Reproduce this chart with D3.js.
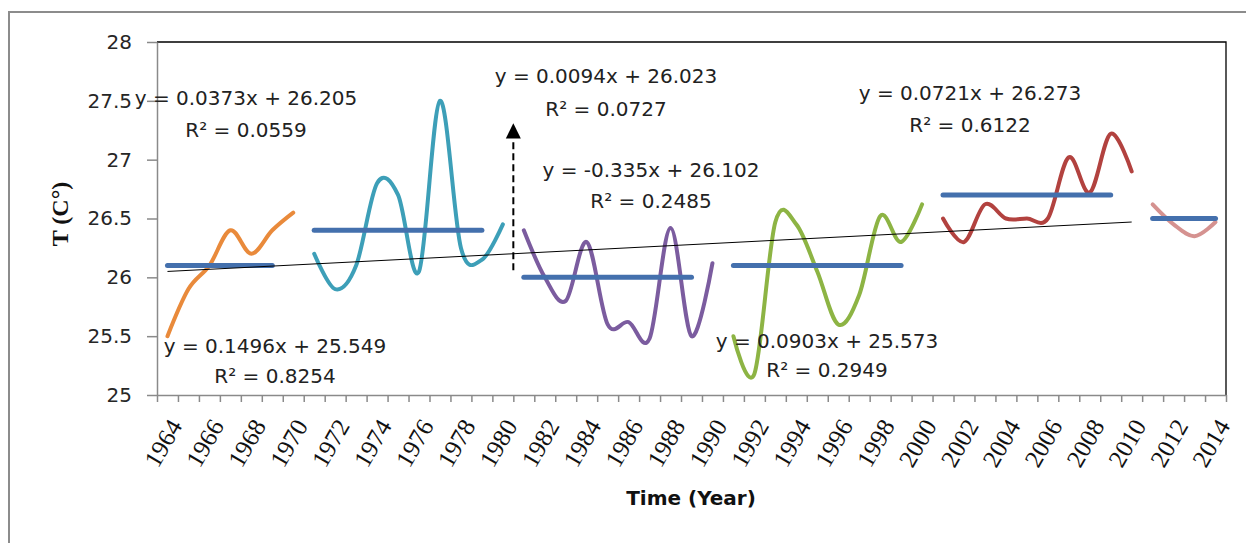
<!DOCTYPE html>
<html>
<head>
<meta charset="utf-8">
<script src="https://cdn.jsdelivr.net/npm/d3@7/dist/d3.min.js"></script>
<style>
  body { margin: 0; background: #fff; }
</style>
</head>
<body>
<div id="chart"></div>
<script>
// categories (one per year)
var years = [1964, 1965, 1966, 1967, 1968, 1969, 1970, 1971, 1972, 1973, 1974, 1975, 1976, 1977,
    1978, 1979, 1980, 1981, 1982, 1983, 1984, 1985, 1986, 1987, 1988, 1989, 1990, 1991,
    1992, 1993, 1994, 1995, 1996, 1997, 1998, 1999, 2000, 2001, 2002, 2003, 2004, 2005,
    2006, 2007, 2008, 2009, 2010, 2011, 2012, 2013, 2014];
var xLabels = [1964, 1966, 1968, 1970, 1972, 1974, 1976, 1978, 1980, 1982, 1984, 1986, 1988,
    1990, 1992, 1994, 1996, 1998, 2000, 2002, 2004, 2006, 2008, 2010, 2012, 2014];
var yTicks = [25, 25.5, 26, 26.5, 27, 27.5, 28];

// decade series (temperature, C)
var years1 = [1964, 1965, 1966, 1967, 1968, 1969, 1970];
var temps1 = [25.5, 25.9, 26.1, 26.4, 26.2, 26.4, 26.55];
var years2 = [1971, 1972, 1973, 1974, 1975, 1976, 1977, 1978, 1979, 1980];
var temps2 = [26.2, 25.9, 26.1, 26.8, 26.7, 26.05, 27.5, 26.25, 26.15, 26.45];
var years3 = [1981, 1982, 1983, 1984, 1985, 1986, 1987, 1988, 1989, 1990];
var temps3 = [26.4, 26.0, 25.8, 26.3, 25.6, 25.62, 25.48, 26.42, 25.5, 26.12];
var years4 = [1991, 1992, 1993, 1994, 1995, 1996, 1997, 1998, 1999, 2000];
var temps4 = [25.5, 25.18, 26.47, 26.45, 26.05, 25.6, 25.85, 26.52, 26.3, 26.62];
var years5 = [2001, 2002, 2003, 2004, 2005, 2006, 2007, 2008, 2009, 2010];
var temps5 = [26.5, 26.3, 26.62, 26.5, 26.5, 26.5, 27.02, 26.72, 27.22, 26.9];
var years6 = [2011, 2012, 2013, 2014];
var temps6 = [26.62, 26.45, 26.35, 26.47];

// decade means (blue bars)
var meanFrom = [1964, 1971, 1981, 1991, 2001, 2011];
var meanTo = [1969, 1979, 1989, 1999, 2009, 2014];
var meanVals = [26.1, 26.4, 26.0, 26.1, 26.7, 26.5];

// overall trend (thin black)
var trendYears = [1964, 2010];
var trendVals = [26.05, 26.47];

// trend equations
var eqLines = ["y = 0.0373x + 26.205", "y = 0.0094x + 26.023", "y = -0.335x + 26.102",
    "y = 0.0721x + 26.273", "y = 0.1496x + 25.549", "y = 0.0903x + 25.573"];
var r2Lines = ["R\u00b2 = 0.0559", "R\u00b2 = 0.0727", "R\u00b2 = 0.2485",
    "R\u00b2 = 0.6122", "R\u00b2 = 0.8254", "R\u00b2 = 0.2949"];

// layout
var eqPos = [[246, 105, 137], [606, 83, 116], [651, 177, 208], [970, 100, 132], [275, 353, 383], [827, 348, 377]];
var colors = ["#e98a3b", "#3d9fb8", "#7b5c9f", "#8db444", "#b2423f", "#d59290"];
var meanColor = "#4470ad";

var svg = d3.select('#chart').append('svg')
    .attr("width", 1246)
    .attr("height", 543);

// outer chart frame
svg.append("rect")
    .attr("x", 9).attr("y", 12)
    .attr("width", 1400).attr("height", 700)
    .attr("fill", "none")
    .attr("stroke", "#8c8c8c")
    .attr("stroke-width", 2);

var plotLeft = 157, plotRight = 1226, plotTop = 42, plotBottom = 395;

var x = d3.scaleBand().domain(years).range([plotLeft, plotRight]);
var xEdge = d3.scaleLinear().domain([0, years.length]).range([plotLeft, plotRight]);
var y = d3.scaleLinear().domain([25, 28]).range([plotBottom, plotTop]);

function xc(yr) { return x(yr) + x.bandwidth() / 2; }

// plot border (top + right)
svg.append("path")
    .attr("d", "M" + plotLeft + "," + plotTop + "H" + plotRight + "V" + plotBottom)
    .attr("fill", "none")
    .attr("stroke", "#000")
    .attr("stroke-width", 1.3);

// y axis
var yAxis = svg.append("g")
    .attr("transform", "translate(" + plotLeft + ",0)")
    .call(d3.axisLeft(y).tickValues(yTicks).tickSize(10).tickSizeOuter(0).tickPadding(15)
        .tickFormat(function(d) { return d % 1 ? d.toFixed(1) : d; }));
yAxis.selectAll("path, line").attr("stroke", "#8a8a8a").attr("stroke-width", 1.5);
yAxis.selectAll("text")
    .style("font-family", "DejaVu Sans")
    .style("font-size", "20px")
    .attr("fill", "#262626");

// x axis: ticks between categories
var xAxis = svg.append("g")
    .attr("transform", "translate(0," + plotBottom + ")")
    .call(d3.axisBottom(xEdge).tickValues(d3.range(years.length + 1)).tickSize(7).tickSizeOuter(0).tickFormat(""));
xAxis.selectAll("path, line").attr("stroke", "#8a8a8a").attr("stroke-width", 1.5);

svg.selectAll(".xlab")
    .data(xLabels)
    .enter().append("text")
    .attr("class", "xlab")
    .attr("transform", function(d) { return "translate(" + (xc(d) + 2) + ",418) rotate(-60)"; })
    .attr("text-anchor", "end")
    .attr("dy", "0.62em")
    .style("font-family", "Liberation Serif")
    .style("font-size", "25px")
    .attr("fill", "#111")
    .text(function(d) { return d; });

// axis titles
svg.append("text")
    .attr("transform", "translate(68,214) rotate(-90)")
    .attr("text-anchor", "middle")
    .style("font-family", "Liberation Serif")
    .style("font-weight", "bold")
    .style("font-size", "24px")
    .attr("fill", "#111")
    .text("T (C\u00b0)");

svg.append("text")
    .attr("x", 691).attr("y", 505)
    .attr("text-anchor", "middle")
    .style("font-family", "DejaVu Sans")
    .style("font-weight", "bold")
    .style("font-size", "20px")
    .attr("fill", "#111")
    .text("Time (Year)");

// smoothed decade curves
var line = d3.line().curve(d3.curveCardinal.tension(0))
    .x(function(d) { return xc(d[0]); })
    .y(function(d) { return y(d[1]); });

var series = [[years1, temps1], [years2, temps2], [years3, temps3],
    [years4, temps4], [years5, temps5], [years6, temps6]];

svg.selectAll(".decade")
    .data(series)
    .enter().append("path")
    .attr("class", "decade")
    .attr("d", function(s) { return line(d3.zip(s[0], s[1])); })
    .attr("fill", "none")
    .attr("stroke", function(s, i) { return colors[i]; })
    .attr("stroke-width", 4)
    .attr("stroke-linecap", "round")
    .attr("stroke-linejoin", "round");

// decade means
svg.selectAll(".mean")
    .data(meanVals)
    .enter().append("line")
    .attr("class", "mean")
    .attr("x1", function(d, i) { return xc(meanFrom[i]); })
    .attr("x2", function(d, i) { return xc(meanTo[i]); })
    .attr("y1", function(d) { return y(d); })
    .attr("y2", function(d) { return y(d); })
    .attr("stroke", meanColor)
    .attr("stroke-width", 5)
    .attr("stroke-linecap", "round");

// overall linear trend
svg.append("line")
    .attr("x1", xc(trendYears[0])).attr("y1", y(trendVals[0]))
    .attr("x2", xc(trendYears[1])).attr("y2", y(trendVals[1]))
    .attr("stroke", "#000")
    .attr("stroke-width", 1);

// dashed arrow between 1980 and 1981
var ax = xEdge(years.indexOf(1981));
svg.append("line")
    .attr("x1", ax).attr("x2", ax)
    .attr("y1", y(26.06)).attr("y2", y(27.18))
    .attr("stroke", "#000")
    .attr("stroke-width", 2)
    .attr("stroke-dasharray", "7,4");
svg.append("path")
    .attr("d", "M" + (ax - 7.5) + "," + y(27.18) + "L" + ax + "," + y(27.31) + "L" + (ax + 7.5) + "," + y(27.18) + "Z")
    .attr("fill", "#000");

// equation labels
var eq = svg.selectAll(".eq")
    .data(eqLines)
    .enter().append("g")
    .attr("class", "eq")
    .style("font-family", "DejaVu Sans")
    .style("font-size", "20px")
    .attr("fill", "#222")
    .attr("text-anchor", "middle");
eq.append("text")
    .attr("x", function(d, i) { return eqPos[i][0]; })
    .attr("y", function(d, i) { return eqPos[i][1]; })
    .text(function(d) { return d; });
eq.append("text")
    .attr("x", function(d, i) { return eqPos[i][0]; })
    .attr("y", function(d, i) { return eqPos[i][2]; })
    .text(function(d, i) { return r2Lines[i]; });
</script>
</body>
</html>
